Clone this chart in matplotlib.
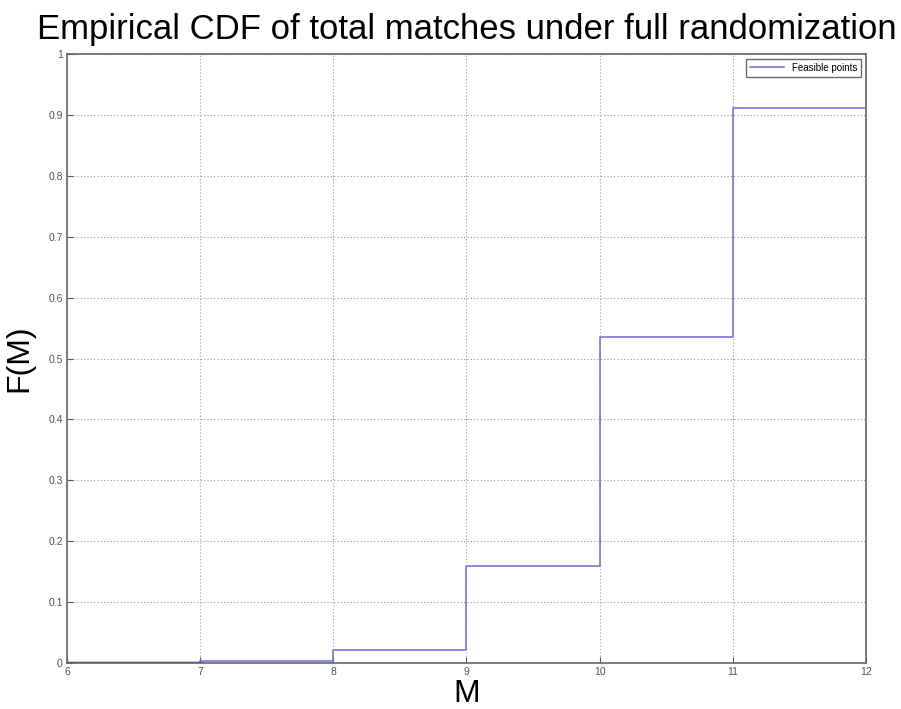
import matplotlib
matplotlib.use('Agg')
import matplotlib.pyplot as plt

# step edges and CDF value on each interval
M_EDGES = [6, 7, 8, 9, 10, 11, 12]
F_VALUES = [0.0, 0.003, 0.021, 0.159, 0.535, 0.911]
X_TICKS = [6, 7, 8, 9, 10, 11, 12]
Y_TICKS = [0, 0.1, 0.2, 0.3, 0.4, 0.5, 0.6, 0.7, 0.8, 0.9, 1]
Y_TICK_LABELS = ["0", "0.1", "0.2", "0.3", "0.4", "0.5", "0.6", "0.7", "0.8", "0.9", "1"]

plt.rcParams['font.family'] = ['Liberation Sans', 'DejaVu Sans']

fig = plt.figure(figsize=(9.01, 7.09), dpi=100)
ax = fig.add_axes([0.0744, 0.0649, 0.8866, 0.8589])

xs = M_EDGES
ys = F_VALUES + [F_VALUES[-1]]
ax.step(xs, ys, where="post", color="#7a78d4", linewidth=1.2, label="Feasible points")
# darker overlapping first segment
ax.plot(M_EDGES[:2], [F_VALUES[0], F_VALUES[0]], color="#2a1fa8", linewidth=2.5)

ax.set_xlim(6, 12)
ax.set_ylim(0, 1)
ax.set_xticks(X_TICKS)
ax.set_yticks(Y_TICKS)
ax.set_yticklabels(Y_TICK_LABELS)
ax.tick_params(labelsize=7.5, colors="#555555", direction="in", length=4, pad=3)
for spine in ax.spines.values():
    spine.set_color("#666666")
    spine.set_linewidth(1.2)

ax.grid(True, linestyle=(0, (1, 2)), color="#999999", linewidth=0.8)

ax.set_title("Empirical CDF of total matches under full randomization",
             fontsize=25, pad=11)
ax.set_xlabel("M", fontsize=23, labelpad=1)
ax.set_ylabel("F(M)", fontsize=23, labelpad=10)

leg = ax.legend(loc="upper right", fontsize=7, fancybox=False,
                handlelength=3.5, borderpad=0.4)
leg.get_frame().set_edgecolor("#444444")
leg.get_frame().set_linewidth(1.0)

fig.savefig("out.png", dpi=100, facecolor="white")
